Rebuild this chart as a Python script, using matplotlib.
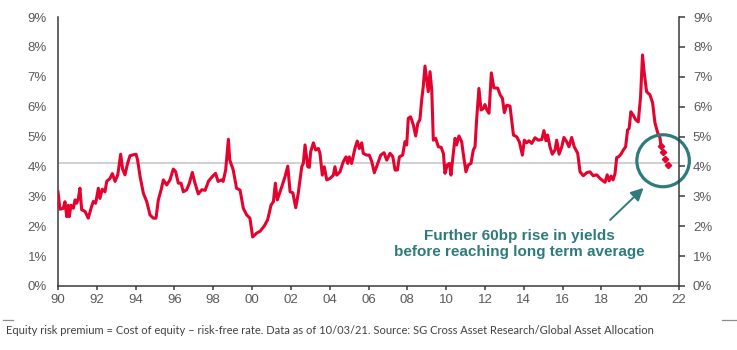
import matplotlib
matplotlib.use("Agg")
import matplotlib.pyplot as plt
from matplotlib.patches import Ellipse

# ---- data ----
years = [1990.00, 1990.10, 1990.27, 1990.36, 1990.45, 1990.53, 1990.58, 1990.67, 1990.79, 1990.88,
         1990.96, 1991.05, 1991.13, 1991.22, 1991.39, 1991.56, 1991.73, 1991.82, 1991.94, 1992.08,
         1992.16, 1992.28, 1992.42, 1992.51, 1992.68, 1992.80, 1992.94, 1993.08, 1993.23, 1993.33,
         1993.45, 1993.59, 1993.71, 1993.88, 1994.02, 1994.10, 1994.23, 1994.40, 1994.57, 1994.74,
         1994.91, 1995.05, 1995.17, 1995.31, 1995.43, 1995.60, 1995.77, 1995.94, 1996.06, 1996.20,
         1996.34, 1996.46, 1996.63, 1996.77, 1996.92, 1997.06, 1997.23, 1997.41, 1997.58, 1997.75,
         1997.92, 1998.12, 1998.25, 1998.43, 1998.51, 1998.64, 1998.78, 1998.85, 1999.03, 1999.20,
         1999.38, 1999.55, 1999.72, 1999.89, 2000.03, 2000.24, 2000.41, 2000.63, 2000.80, 2000.98,
         2001.10, 2001.20, 2001.30, 2001.53, 2001.70, 2001.84, 2001.96, 2002.10, 2002.25, 2002.38,
         2002.56, 2002.64, 2002.73, 2002.87, 2002.95, 2003.02, 2003.16, 2003.28, 2003.42, 2003.50,
         2003.62, 2003.72, 2003.85, 2004.02, 2004.19, 2004.27, 2004.36, 2004.53, 2004.70, 2004.84,
         2004.93, 2005.01, 2005.13, 2005.30, 2005.42, 2005.53, 2005.65, 2005.73, 2005.90, 2006.04,
         2006.17, 2006.30, 2006.45, 2006.63, 2006.80, 2006.94, 2007.11, 2007.25, 2007.37, 2007.49,
         2007.59, 2007.76, 2007.88, 2007.97, 2008.05, 2008.17, 2008.31, 2008.43, 2008.54, 2008.65,
         2008.74, 2008.82, 2008.91, 2009.00, 2009.08, 2009.17, 2009.26, 2009.34, 2009.46, 2009.60,
         2009.74, 2009.86, 2009.94, 2010.06, 2010.17, 2010.25, 2010.37, 2010.46, 2010.54, 2010.66,
         2010.80, 2010.88, 2011.02, 2011.14, 2011.28, 2011.40, 2011.49, 2011.57, 2011.69, 2011.80,
         2011.92, 2012.00, 2012.10, 2012.21, 2012.33, 2012.46, 2012.66, 2012.78, 2012.90, 2013.00,
         2013.12, 2013.29, 2013.47, 2013.64, 2013.77, 2013.93, 2014.03, 2014.15, 2014.27, 2014.41,
         2014.58, 2014.75, 2014.93, 2015.04, 2015.15, 2015.23, 2015.35, 2015.47, 2015.61, 2015.70,
         2015.82, 2015.96, 2016.07, 2016.21, 2016.33, 2016.47, 2016.60, 2016.78, 2016.90, 2017.07,
         2017.24, 2017.41, 2017.58, 2017.76, 2017.93, 2018.08, 2018.19, 2018.30, 2018.40, 2018.50,
         2018.60, 2018.70, 2018.79, 2018.88, 2019.01, 2019.13, 2019.25, 2019.35, 2019.43, 2019.52,
         2019.64, 2019.76, 2019.90, 2020.02, 2020.12, 2020.21, 2020.33, 2020.50, 2020.64, 2020.76,
         2020.90, 2021.02, 2021.07]
erp = [3.15, 2.57, 2.60, 2.82, 2.32, 2.70, 2.32, 2.70, 2.60, 2.88,
       2.77, 2.93, 3.27, 2.55, 2.50, 2.27, 2.66, 2.83, 2.77, 3.27,
       2.93, 3.24, 3.15, 3.50, 3.60, 3.76, 3.50, 3.72, 4.41, 3.91,
       3.72, 4.11, 4.36, 4.39, 4.41, 4.22, 3.66, 3.10, 2.83, 2.38,
       2.27, 2.27, 2.88, 3.21, 3.55, 3.38, 3.55, 3.91, 3.83, 3.44,
       3.44, 3.15, 3.22, 3.44, 3.80, 3.44, 3.08, 3.22, 3.20, 3.50,
       3.64, 3.77, 3.50, 3.55, 3.50, 3.88, 4.91, 4.22, 3.88, 3.27,
       3.21, 2.60, 2.38, 2.27, 1.64, 1.77, 1.83, 2.01, 2.21, 2.71,
       2.82, 3.44, 2.88, 3.32, 3.66, 4.01, 3.15, 3.12, 2.62, 3.10,
       3.99, 4.10, 4.72, 3.99, 3.97, 4.49, 4.79, 4.55, 4.60, 4.44,
       3.71, 3.99, 3.55, 3.60, 3.71, 3.99, 3.71, 3.82, 4.16, 4.32,
       4.10, 4.32, 4.10, 4.60, 4.85, 4.60, 4.79, 4.44, 4.38, 4.38,
       4.16, 3.79, 4.05, 4.38, 4.46, 4.21, 4.44, 4.33, 3.88, 3.88,
       4.32, 4.38, 4.83, 4.72, 5.61, 5.66, 5.39, 5.02, 5.44, 5.57,
       6.22, 6.66, 7.36, 6.89, 6.50, 7.17, 6.55, 4.88, 4.94, 4.66,
       4.64, 4.44, 3.77, 4.05, 4.10, 3.71, 4.44, 4.94, 4.72, 5.02,
       4.83, 4.44, 3.82, 4.05, 4.10, 4.55, 4.66, 5.55, 6.61, 5.89,
       5.94, 6.07, 5.89, 5.78, 7.13, 6.63, 6.62, 6.40, 6.28, 5.80,
       6.05, 6.02, 5.05, 4.99, 4.83, 4.38, 4.88, 4.79, 4.86, 4.77,
       4.96, 4.88, 4.90, 5.20, 4.86, 5.05, 4.66, 4.41, 4.55, 4.88,
       4.41, 4.66, 4.97, 4.83, 4.66, 4.97, 4.66, 4.44, 3.82, 3.69,
       3.79, 3.82, 3.69, 3.72, 3.60, 3.52, 3.47, 3.72, 3.52, 3.68,
       3.55, 3.75, 4.30, 4.32, 4.41, 4.55, 4.66, 5.22, 5.27, 5.83,
       5.72, 5.57, 5.49, 6.33, 7.73, 7.12, 6.50, 6.40, 6.13, 5.46,
       5.13, 4.96, 4.68]

proj_years = [2021.07, 2021.16, 2021.28, 2021.45]
proj_erp = [4.68, 4.49, 4.25, 4.05]

long_term_avg = 4.1

xticks = list(range(1990, 2023, 2))
xtick_labels = ["%02d" % (y % 100) for y in xticks]
yticks = list(range(0, 10))
ytick_labels = ["%d%%" % v for v in yticks]

note_lines = ["Further 60bp rise in yields", "before reaching long term average"]
footnote = ("Equity risk premium = Cost of equity \u2013 risk-free rate. Data as of 10/03/21. "
            "Source: SG Cross Asset Research/Global Asset Allocation")

# ---- style ----
RED = "#e4032e"
TEAL = "#2e7b7b"
GREY_TXT = "#595959"
SPINE = "#3a3a3a"

W, H = 737, 350
fig = plt.figure(figsize=(W / 100, H / 100), dpi=100)
ax = fig.add_axes([58 / W, 1 - 286 / H, (679 - 58) / W, (286 - 17) / H])

ax.set_xlim(1990, 2022)
ax.set_ylim(0, 9)

ax.axhline(long_term_avg, color="#c4c4c4", lw=1.1, zorder=1)
ax.plot(years, erp, color=RED, lw=2.2, zorder=3, solid_joinstyle="round")
ax.plot(proj_years, proj_erp, color=RED, lw=0, marker="D", ms=3.2, zorder=3)

ax.spines["top"].set_visible(False)
ax.spines["right"].set_visible(False)
for s in ["left", "bottom"]:
    ax.spines[s].set_color(SPINE)
    ax.spines[s].set_linewidth(1.1)

font = "Liberation Sans"
ax.set_xticks(xticks)
ax.set_xticklabels(xtick_labels, fontsize=9.5, color=GREY_TXT, family=font)
ax.set_yticks(yticks)
ax.set_yticklabels(ytick_labels, fontsize=9.5, color=GREY_TXT, family=font)
ax.tick_params(axis="x", direction="out", length=3, width=1.1, color=SPINE, pad=3)
ax.tick_params(axis="y", length=0, pad=8)

ax2 = ax.twinx()
ax2.set_ylim(0, 9)
ax2.set_yticks(yticks)
ax2.set_yticklabels(ytick_labels, fontsize=9.5, color=GREY_TXT, family=font)
ax2.tick_params(axis="y", direction="out", length=4, width=1.1, color=SPINE, pad=6)
for s in ["top", "left", "bottom"]:
    ax2.spines[s].set_visible(False)
ax2.spines["right"].set_color(SPINE)
ax2.spines["right"].set_linewidth(1.1)

# circle annotation (round in pixels)
cx, cy = 2021.18, 4.19
circ = Ellipse((cx, cy), width=52.5 / 19.406, height=52 / 29.9, fill=False,
               edgecolor=TEAL, lw=2.3, zorder=4, clip_on=False)
ax.add_patch(circ)

ax.annotate("", xy=(2020.17, 3.28), xytext=(2018.45, 2.21),
            arrowprops=dict(arrowstyle="-|>,head_length=0.75,head_width=0.38",
                            color=TEAL, lw=1.4, shrinkA=0, shrinkB=0), zorder=4)

ax.text(2013.76, 1.68, note_lines[0], ha="center", va="center", color=TEAL,
        fontsize=11, fontweight="bold", family=font)
ax.text(2013.76, 1.13, note_lines[1], ha="center", va="center", color=TEAL,
        fontsize=11, fontweight="bold", family=font)

# footnote
ft = fig.text(6 / W, 1 - 330 / H, footnote, ha="left", va="center", color="#404040",
              fontsize=9, family="Lato")
fig.canvas.draw()
w = ft.get_window_extent().width
ft.set_fontsize(9 * (650 / w))

fig.add_artist(plt.Line2D([3 / W, 13 / W], [1 - 320 / H] * 2, color="#8c8c8c", lw=0.9))
fig.add_artist(plt.Line2D([722 / W, 736 / W], [1 - 320 / H] * 2, color="#8c8c8c", lw=0.9))

fig.savefig("out.png", dpi=100)
